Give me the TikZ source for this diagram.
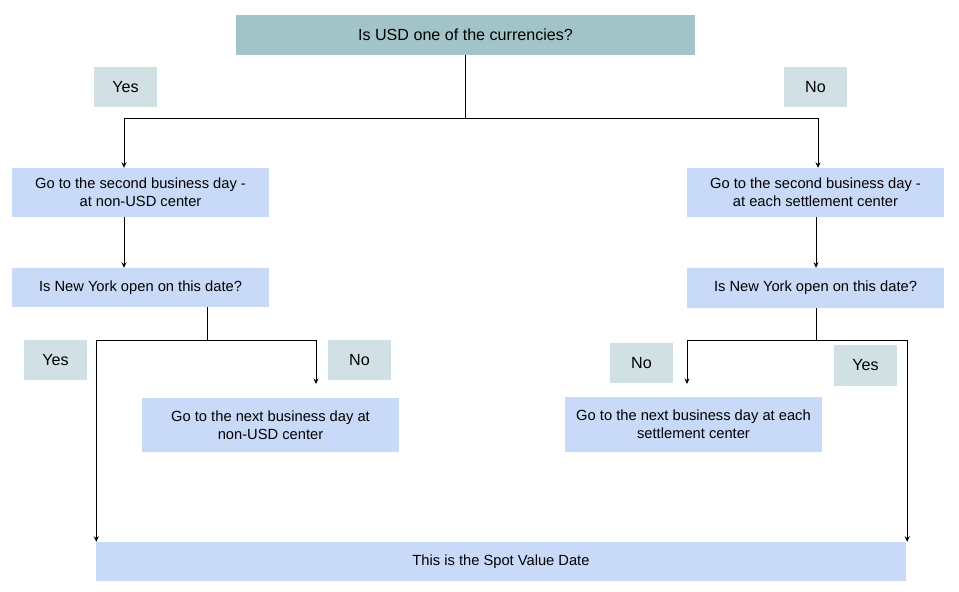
\documentclass[tikz,border=0pt]{standalone}
\usepackage{fontspec}
\setmainfont{Liberation Sans}
\usetikzlibrary{arrows.meta}
\definecolor{topfill}{HTML}{A2C4C9}
\definecolor{boxfill}{HTML}{C9DAF8}
\definecolor{lblfill}{HTML}{D0E0E3}
\tikzset{
  base/.style={inner sep=0pt, align=center, font=\fontsize{16.1}{17.8}\selectfont, text=black},
  small/.style={font=\fontsize{14.7}{17.6}\selectfont},
  topbox/.style={base, fill=topfill, minimum width=459pt, minimum height=40pt},
  stepbox/.style={base, small, fill=boxfill, minimum width=257pt},
  lbl/.style={base, fill=lblfill, minimum width=63pt, minimum height=40pt},
  conn/.style={line width=1pt, black},
  arr/.style={conn, -{Stealth[length=5.5pt,width=5pt]}}
}
\begin{document}
\begin{tikzpicture}[x=1pt,y=-1pt]
\useasboundingbox (0,0) rectangle (959,592);
% nodes
\node[topbox] (top) at (465.5,35) {Is USD one of the currencies?};
\node[lbl] (yes1) at (125.5,87) {Yes};
\node[lbl] (no1) at (815.5,87) {No};
\node[stepbox, minimum height=49pt] (L1) at (140.5,192.5) {Go to the second business day -\\at non-USD center};
\node[stepbox, minimum height=39pt] (L2) at (140.5,287.5) {Is New York open on this date?};
\node[lbl] (yes2) at (55.5,360) {Yes};
\node[lbl] (no2) at (359.5,360) {No};
\node[stepbox, minimum height=54pt] (LN) at (270.5,425) {Go to the next business day at\\non-USD center};
\node[stepbox, minimum height=49pt] (R1) at (815.5,192.5) {Go to the second business day -\\at each settlement center};
\node[stepbox, minimum height=40pt] (R2) at (815.5,288) {Is New York open on this date?};
\node[lbl] (no3) at (641.5,363) {No};
\node[lbl, minimum height=41pt] (yes3) at (865.5,365.5) {Yes};
\node[stepbox, minimum height=55pt] (RN) at (693.5,424.5) {Go to the next business day at each\\settlement center};
\node[base, small, fill=boxfill, minimum width=810pt, minimum height=39pt] (bot) at (501,561.5) {This is the Spot Value Date};
% junctions
\coordinate (j1) at (465,118);
\coordinate (j2) at (207,340);
\coordinate (j3) at (816,340);
\coordinate (a2) at (316,384);
\coordinate (a3) at (687,384);
% connectors
\draw[conn] ([xshift=-0.5]top.south) -- (j1);
\draw[arr] (j1) -| ([xshift=-16.5]L1.north);
\draw[arr] (j1) -| ([xshift=2.5]R1.north);
\draw[arr] ([xshift=-16.5]L1.south) -- ([xshift=-16.5]L2.north);
\draw[arr] ([xshift=0.5]R1.south) -- ([xshift=0.5]R2.north);
\draw[conn] ([xshift=66.5]L2.south) -- (j2);
\draw[arr] (j2) -| (a2);
\draw[arr] (j2) -| ([xshift=0.5]bot.north west);
\draw[conn] ([xshift=0.5]R2.south) -- (j3);
\draw[arr] (j3) -| (a3);
\draw[arr] (j3) -| ([xshift=1]bot.north east);
\end{tikzpicture}
\end{document}
